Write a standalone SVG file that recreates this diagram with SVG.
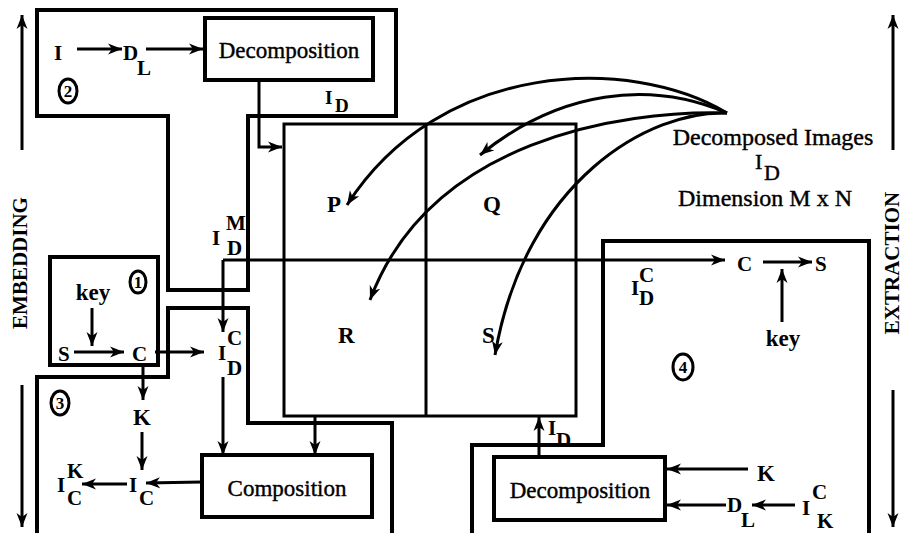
<svg xmlns="http://www.w3.org/2000/svg" width="903" height="533" viewBox="0 0 903 533">
<defs>
<marker id="ah" markerUnits="userSpaceOnUse" markerWidth="16" markerHeight="12" refX="14" refY="6" orient="auto" viewBox="0 0 16 12">
<path d="M0,0.5 L14,6 L0,11.5 L4,6 Z" fill="#000"/>
</marker>
<style>
.reg{fill:none;stroke:#000;stroke-width:4}
.box{fill:#fff;stroke:#000;stroke-width:4}
.grid{fill:none;stroke:#000;stroke-width:3}
.ar{fill:none;stroke:#000;stroke-width:3;marker-end:url(#ah)}
.cv{fill:none;stroke:#000;stroke-width:3;marker-end:url(#ah)}
.circ{fill:none;stroke:#000;stroke-width:3}
text{fill:#000;font-family:"Liberation Serif","Times New Roman",serif}
.big{font-size:23px;text-anchor:middle;stroke:#000;stroke-width:0.4}
.cap{font-size:24px;text-anchor:middle;stroke:#000;stroke-width:0.4}
.lb{font-size:21px;font-weight:bold}
.lt{font-size:23px;font-weight:bold}
.num{font-size:17px;font-weight:bold;text-anchor:middle}
.side{font-size:21px;font-weight:bold;text-anchor:middle}
</style>
</defs>

<g id="regions">
<path id="region2" class="reg" d="M37,10 L396,10 L396,116 L248,116 L248,290 L168,290 L168,116 L37,116 Z"/>
<path id="region3" class="reg" d="M37,536 L37,377 L168,377 L168,308 L248,308 L248,423 L392,423 L392,536"/>
<path id="region4" class="reg" d="M472,536 L472,445 L603,445 L603,241 L869,241 L869,536"/>
<rect id="region1" class="reg" x="50" y="257" width="108" height="108"/>
</g>

<g id="grid">
<rect class="grid" x="284" y="124" width="292" height="292"/>
<line class="grid" x1="426" y1="124" x2="426" y2="416"/>
<text class="lt" x="327" y="212">P</text>
<text class="lt" x="483" y="212">Q</text>
<text class="lt" x="338" y="343">R</text>
<text class="lt" x="482" y="343">S</text>
</g>

<g id="decomp-top">
<rect class="box" x="205" y="18" width="168" height="62"/>
<text class="big" x="289" y="58">Decomposition</text>
</g>

<g id="composition">
<rect class="box" x="202" y="455" width="170" height="62"/>
<text class="big" x="287" y="496">Composition</text>
</g>

<g id="decomp-bottom">
<rect class="box" x="494" y="457" width="171" height="63"/>
<text class="big" x="580" y="498">Decomposition</text>
</g>

<g id="labels">
<text class="lb" x="54" y="60">I</text>
<text class="lb" x="123" y="60">D</text>
<text class="lb" x="137" y="75">L</text>
<text class="lb" x="325" y="104" style="font-size:19px">I</text>
<text class="lb" x="335" y="112" style="font-size:19px">D</text>

<text class="lb" x="212" y="245">I</text>
<text class="lb" x="226" y="230">M</text>
<text class="lb" x="227" y="255">D</text>

<text class="lb" x="218" y="360">I</text>
<text class="lb" x="227" y="345">C</text>
<text class="lb" x="227" y="375">D</text>

<text class="lt" x="93" y="300" style="text-anchor:middle">key</text>
<text class="lb" x="58" y="361">S</text>
<text class="lb" x="132" y="361">C</text>

<text class="lt" x="133" y="425">K</text>
<text class="lb" x="129" y="492">I</text>
<text class="lb" x="139" y="505">C</text>
<text class="lb" x="57" y="492">I</text>
<text class="lb" x="67" y="478">K</text>
<text class="lb" x="67" y="505">C</text>

<text class="lb" x="737" y="271">C</text>
<text class="lb" x="815" y="271">S</text>
<text class="lt" x="783" y="346" style="text-anchor:middle">key</text>
<text class="lb" x="631" y="295">I</text>
<text class="lb" x="639" y="282">C</text>
<text class="lb" x="639" y="305">D</text>

<text class="lb" x="548" y="435">I</text>
<text class="lb" x="556" y="447">D</text>
<text class="lt" x="757" y="481">K</text>
<text class="lb" x="727" y="512">D</text>
<text class="lb" x="741" y="527">L</text>
<text class="lb" x="802" y="515">I</text>
<text class="lb" x="812" y="499">C</text>
<text class="lb" x="817" y="528">K</text>

<text class="cap" x="773" y="145">Decomposed Images</text>
<text class="cap" x="755" y="169" style="text-anchor:start;font-size:22px">I</text>
<text class="cap" x="764" y="180" style="text-anchor:start;font-size:22px">D</text>
<text class="cap" x="765" y="206">Dimension M x N</text>

<ellipse class="circ" cx="68" cy="91" rx="9" ry="12"/>
<text class="num" x="68" y="97">2</text>
<ellipse class="circ" cx="138" cy="282" rx="8" ry="11"/>
<text class="num" x="138" y="288">1</text>
<ellipse class="circ" cx="60" cy="403" rx="9" ry="12"/>
<text class="num" x="60" y="409">3</text>
<ellipse class="circ" cx="683" cy="367" rx="10" ry="13"/>
<text class="num" x="683" y="373">4</text>

<text class="side" transform="translate(27,263) rotate(-90)" x="0" y="0">EMBEDDING</text>
<text class="side" transform="translate(899,263) rotate(-90)" x="0" y="0">EXTRACTION</text>
</g>

<g id="connectors">
<line class="ar" x1="77" y1="49" x2="122" y2="49"/>
<line class="ar" x1="146" y1="49" x2="203" y2="49"/>
<path class="ar" d="M259,80 L259,147 L282,147"/>
<path class="ar" d="M223,260 L223,332"/>
<line class="ar" x1="223" y1="260" x2="725" y2="260"/>
<line class="ar" x1="155" y1="352" x2="204" y2="352"/>
<line class="ar" x1="223" y1="377" x2="223" y2="455"/>
<line class="ar" x1="315" y1="416" x2="315" y2="455"/>
<line class="ar" x1="92" y1="308" x2="92" y2="346"/>
<line class="ar" x1="74" y1="352" x2="124" y2="352"/>
<line class="ar" x1="143" y1="366" x2="143" y2="400"/>
<line class="ar" x1="142" y1="432" x2="142" y2="470"/>
<line class="ar" x1="202" y1="482" x2="146" y2="483"/>
<line class="ar" x1="127" y1="484" x2="82" y2="484"/>
<line class="ar" x1="763" y1="262" x2="812" y2="262"/>
<line class="ar" x1="782" y1="322" x2="782" y2="269"/>
<line class="ar" x1="539" y1="457" x2="539" y2="417"/>
<line class="ar" x1="748" y1="469" x2="667" y2="469"/>
<line class="ar" x1="726" y1="505" x2="667" y2="505"/>
<line class="ar" x1="795" y1="505" x2="752" y2="505"/>
<path class="cv" d="M727,113 C630,55 440,60 347,205"/>
<path class="cv" d="M727,113 C650,80 560,90 480,155"/>
<path class="cv" d="M727,113 C620,110 430,140 370,300"/>
<path class="cv" d="M727,113 C650,110 525,180 495,355"/>
<line class="ar" x1="22" y1="150" x2="22" y2="15"/>
<line class="ar" x1="22" y1="385" x2="22" y2="527"/>
<line class="ar" x1="893" y1="150" x2="893" y2="15"/>
<line class="ar" x1="893" y1="390" x2="893" y2="527"/>
</g>
</svg>
